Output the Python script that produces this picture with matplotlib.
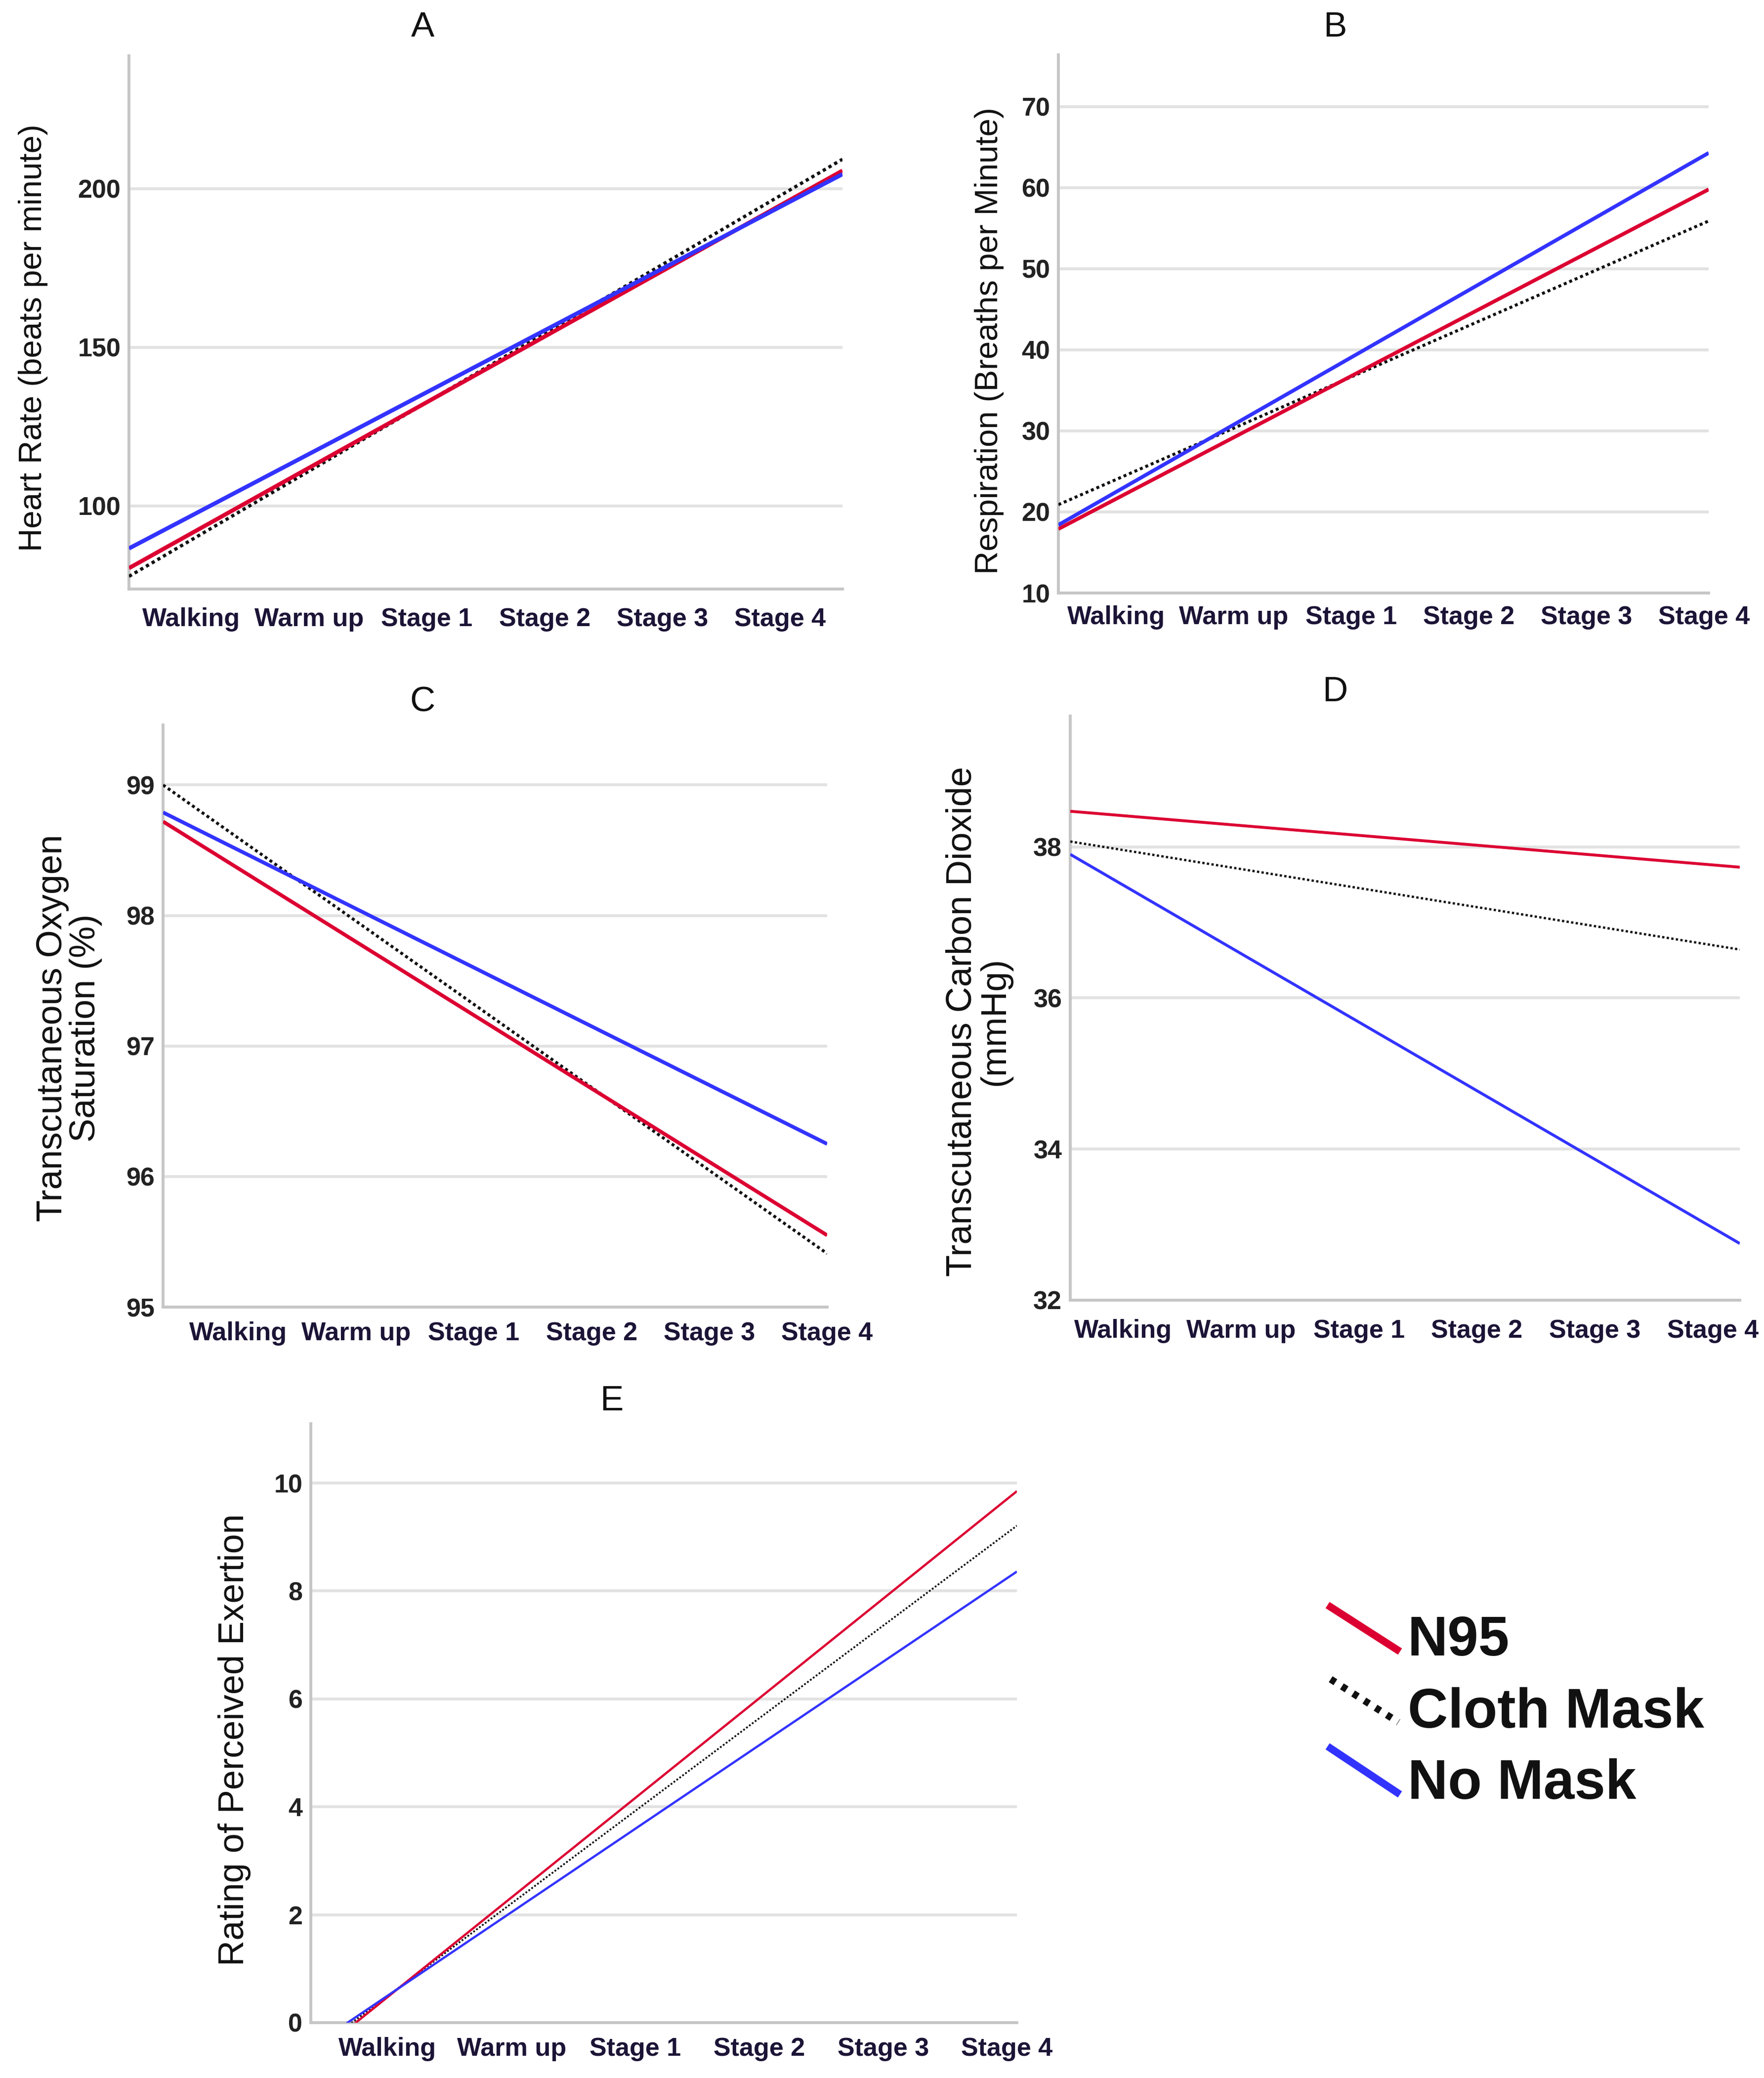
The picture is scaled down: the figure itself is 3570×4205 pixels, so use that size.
import matplotlib.pyplot as plt
from matplotlib.lines import Line2D


# =====================================================
# DATA
# =====================================================

stages = ["Walking", "Warm up", "Stage 1", "Stage 2", "Stage 3", "Stage 4"]
groups = ["N95", "Cloth Mask", "No Mask"]

# fit-line values read at the left / right edge of each panel
hr_n95 = [80.4, 205.7]
hr_cloth = [77.8, 209.3]
hr_nomask = [86.6, 204.6]

resp_n95 = [17.9, 59.8]
resp_cloth = [20.9, 55.9]
resp_nomask = [18.4, 64.3]

spo2_n95 = [98.72, 95.55]
spo2_cloth = [99.00, 95.41]
spo2_nomask = [98.79, 96.25]

co2_n95 = [38.47, 37.73]
co2_cloth = [38.07, 36.64]
co2_nomask = [37.90, 32.75]

rpe_n95 = [-0.67, 9.85]
rpe_cloth = [-0.57, 9.21]
rpe_nomask = [-0.46, 8.36]

hr_ticks = [100, 150, 200]
resp_ticks = [10, 20, 30, 40, 50, 60, 70]
spo2_ticks = [95, 96, 97, 98, 99]
co2_ticks = [32, 34, 36, 38]
rpe_ticks = [0, 2, 4, 6, 8, 10]


# =====================================================
# STYLE
# =====================================================

W, H = 3570, 4205
DPI = 300

RED = "#dc0032"
BLUE = "#3333ff"
BLACK = "#111111"
GRID = "#e2e2e2"
SPINE = "#c6c6c6"
TICK_COLOR = "#1c1436"

plt.rcParams["font.family"] = ["Liberation Sans", "DejaVu Sans"]

fig = plt.figure(figsize=(W / DPI, H / DPI), dpi=DPI)


def fx(x):
    return x / W


def fy(y):
    return 1 - y / H


def px_box(x0, y0, x1, y1):
    return [fx(x0), fy(y1), (x1 - x0) / W, (y1 - y0) / H]


panels = [
    {
        "title": "A", "box": (261, 113, 1705, 1192),
        "xlim": (-0.53, 5.53), "ylim": (73.8, 241.9), "ticks": hr_ticks,
        "series": (hr_cloth, hr_n95, hr_nomask),
        "ylabel": "Heart Rate (beats per minute)", "ysize": 15.7,
        "title_pos": (855, 56), "ylabel_pos": (67, 684),
        "lw": 2.0, "xpad": 9,
    },
    {
        "title": "B", "box": (2142, 111, 3458, 1200),
        "xlim": (-0.49, 5.04), "ylim": (10, 76.4), "ticks": resp_ticks,
        "series": (resp_cloth, resp_n95, resp_nomask),
        "ylabel": "Respiration (Breaths per Minute)", "ysize": 15.7,
        "title_pos": (2702, 56), "ylabel_pos": (2002, 690),
        "lw": 1.8, "xpad": 6,
    },
    {
        "title": "C", "box": (330, 1467, 1674, 2645),
        "xlim": (-0.64, 5.0), "ylim": (95, 99.46), "ticks": spo2_ticks,
        "series": (spo2_cloth, spo2_n95, spo2_nomask),
        "ylabel": "Transcutaneous Oxygen\nSaturation (%)", "ysize": 17.3,
        "title_pos": (855, 1422), "ylabel_pos": (140, 2080),
        "lw": 1.8, "xpad": 7,
    },
    {
        "title": "D", "box": (2166, 1449, 3521, 2631),
        "xlim": (-0.45, 5.23), "ylim": (32, 39.73), "ticks": co2_ticks,
        "series": (co2_cloth, co2_n95, co2_nomask),
        "ylabel": "Transcutaneous Carbon Dioxide\n(mmHg)", "ysize": 17.3,
        "title_pos": (2702, 1401), "ylabel_pos": (1981, 2067),
        "lw": 1.4, "xpad": 9,
    },
    {
        "title": "E", "box": (629, 2881, 2058, 4093),
        "xlim": (-0.62, 5.08), "ylim": (0, 11.1), "ticks": rpe_ticks,
        "series": (rpe_cloth, rpe_n95, rpe_nomask),
        "ylabel": "Rating of Perceived Exertion", "ysize": 17.3,
        "title_pos": (1238, 2836), "ylabel_pos": (475, 3521),
        "lw": 1.1, "xpad": 7,
    },
]

line_styles = [
    {"color": BLACK, "linestyle": (0, (1, 1)), "scale": 0.8},   # Cloth Mask
    {"color": RED, "linestyle": "-", "scale": 1.0},             # N95
    {"color": BLUE, "linestyle": "-", "scale": 1.0},            # No Mask
]


# =====================================================
# PANELS
# =====================================================

for p in panels:

    ax = fig.add_axes(px_box(*p["box"]))

    x_edges = list(p["xlim"])
    for values, st in zip(p["series"], line_styles):
        ax.plot(
            x_edges, values,
            color=st["color"],
            linestyle=st["linestyle"],
            linewidth=p["lw"] * st["scale"],
            solid_capstyle="butt",
            zorder=3,
        )

    ax.set_xlim(*p["xlim"])
    ax.set_ylim(*p["ylim"])

    ax.set_xticks(range(len(stages)))
    ax.set_xticklabels(stages, fontsize=12.5, fontweight="bold", color=TICK_COLOR)
    ax.set_yticks(p["ticks"])
    ax.set_yticklabels([str(t) for t in p["ticks"]],
                       fontsize=12.5, fontweight="bold", color="#222222")

    ax.tick_params(axis="x", length=0, pad=p["xpad"])
    ax.tick_params(axis="y", length=0, pad=4)

    ax.grid(axis="y", color=GRID, linewidth=1.4, zorder=1)
    ax.set_axisbelow(True)

    for side in ["top", "right"]:
        ax.spines[side].set_visible(False)
    for side in ["left", "bottom"]:
        ax.spines[side].set_color(SPINE)
        ax.spines[side].set_linewidth(1.4)

    tx, ty = p["title_pos"]
    fig.text(fx(tx), fy(ty), p["title"], fontsize=17,
             ha="center", va="center", color="#111111")

    lx, ly = p["ylabel_pos"]
    fig.text(fx(lx), fy(ly), p["ylabel"], fontsize=p["ysize"],
             rotation=90, ha="center", va="center",
             multialignment="center", linespacing=1.0, color="#111111")


# =====================================================
# LEGEND (slanted handles like the original)
# =====================================================

legend_handles = [
    ((2693, 3252), (2827, 3338), RED, "-", 3.6),
    ((2693, 3398), (2830, 3485), BLACK, (0, (0.8, 1.1)), 3.4),
    ((2693, 3538), (2827, 3627), BLUE, "-", 3.6),
]
legend_baselines = [3350, 3496, 3640]

for (p0, p1, col, ls, lw), label, base in zip(legend_handles, groups, legend_baselines):
    fig.add_artist(Line2D(
        [fx(p0[0]), fx(p1[0])], [fy(p0[1]), fy(p1[1])],
        transform=fig.transFigure, color=col, linestyle=ls, linewidth=lw,
    ))
    fig.text(fx(2849), fy(base), label, fontsize=27, fontweight="bold",
             ha="left", va="baseline", color="#111111")


fig.savefig("out.png", dpi=DPI, facecolor="white")
